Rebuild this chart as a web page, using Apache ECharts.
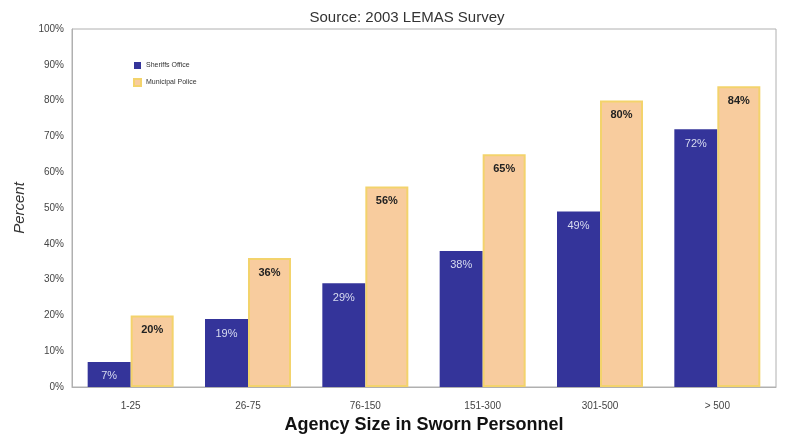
<!DOCTYPE html>
<html>
<head>
<meta charset="utf-8">
<script src="https://cdn.jsdelivr.net/npm/echarts@6/dist/echarts.min.js"></script>
<style>
  html, body { margin: 0; padding: 0; background: #fff; }
  #main { width: 786px; height: 435px; }
</style>
</head>
<body>
<div id="main"></div>
<script>
var categories = ["1-25", "26-75", "76-150", "151-300", "301-500", "> 500"];
var sheriffValues = [7, 19, 29, 38, 49, 72];
var municipalValues = [20, 36, 56, 65, 80, 84];

var chart = echarts.init(document.getElementById("main"));
chart.setOption({
  backgroundColor: "#ffffff",
  animation: false,
  textStyle: { fontFamily: "Liberation Sans, Arial, sans-serif" },
  title: {
    text: "Source: 2003 LEMAS Survey",
    left: 402,
    textAlign: "center",
    top: 5,
    textStyle: { fontSize: 15, fontWeight: "normal", color: "#333" }
  },
  legend: {
    data: ["Sheriffs Office", "Municipal Police"],
    orient: "vertical",
    left: 128,
    top: 57,
    itemWidth: 7,
    itemHeight: 7,
    itemGap: 9,
    icon: "rect",
    textStyle: { fontSize: 7, color: "#333" }
  },
  grid: {
    left: 72,
    right: 10,
    top: 29,
    bottom: 48,
    outerBoundsMode: "none",
    containLabel: false,
    show: true,
    borderColor: "#b0b0b0",
    borderWidth: 1
  },
  xAxis: {
    type: "category",
    data: categories,
    name: "Agency Size in Sworn Personnel",
    nameLocation: "middle",
    nameGap: 28,
    nameTextStyle: { fontSize: 18, fontWeight: "bold", color: "#111" },
    axisTick: { show: false },
    axisLine: { lineStyle: { color: "#b0b0b0" } },
    axisLabel: { fontSize: 10, color: "#444", margin: 14 }
  },
  yAxis: {
    type: "value",
    min: 0,
    max: 100,
    interval: 10,
    name: "Percent",
    nameLocation: "middle",
    nameGap: 40,
    nameTextStyle: { fontSize: 15, fontStyle: "italic", color: "#333" },
    splitLine: { show: false },
    axisLine: { show: true, lineStyle: { color: "#b0b0b0" } },
    axisTick: { show: false },
    axisLabel: { formatter: "{value}%", fontSize: 10, color: "#444", margin: 8 }
  },
  series: [
    {
      name: "Sheriffs Office",
      type: "bar",
      data: sheriffValues,
      barWidth: 43,
      barGap: "0%",
      itemStyle: { color: "#34349a" },
      label: {
        show: true,
        position: "insideTop",
        distance: 9,
        formatter: "{c}%",
        fontSize: 11,
        color: "#d8dcf0"
      }
    },
    {
      name: "Municipal Police",
      type: "bar",
      data: municipalValues,
      barWidth: 43,
      barGap: "0%",
      itemStyle: { color: "#f8cc9e", borderColor: "#f3d36c", borderWidth: 2 },
      label: {
        show: true,
        position: "insideTop",
        distance: 9,
        formatter: "{c}%",
        fontSize: 11,
        fontWeight: "bold",
        color: "#222"
      }
    }
  ]
});
</script>
</body>
</html>
